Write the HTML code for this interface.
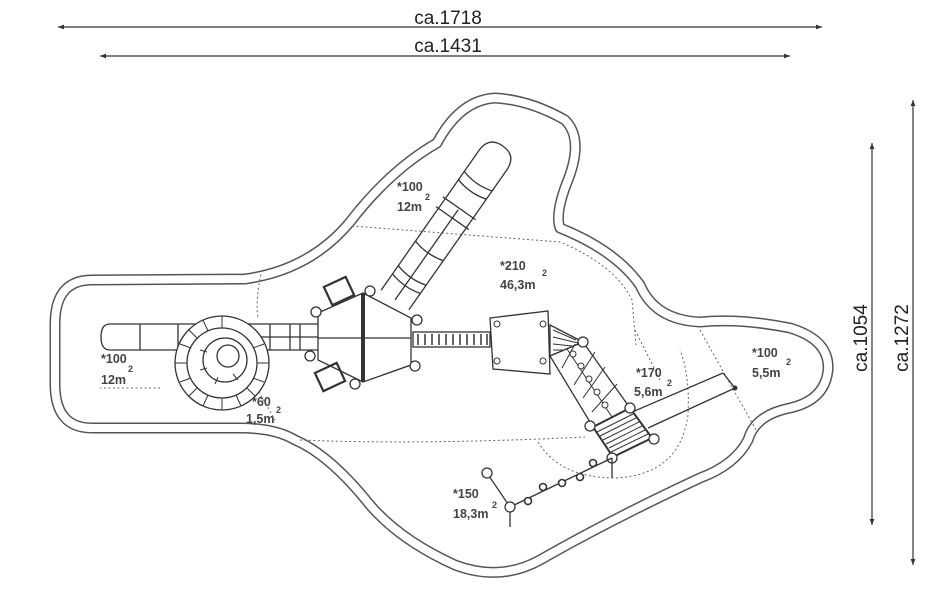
<!DOCTYPE html>
<html><head><meta charset="utf-8"><style>
html,body{margin:0;padding:0;background:#fff;}
svg{display:block;}
text{font-family:"Liberation Sans",sans-serif;fill:#333;}
.l{font-size:12.5px;font-weight:bold;fill:#444;}
.s{font-size:9px;font-weight:bold;fill:#444;}
.d{font-size:19px;fill:#222;}
</style></head><body>
<svg width="950" height="600" viewBox="0 0 950 600" xmlns="http://www.w3.org/2000/svg">
<defs>
<marker id="a" viewBox="0 0 10 10" refX="10" refY="5" markerWidth="7" markerHeight="5" orient="auto-start-reverse"><path d="M0,1 L10,5 L0,9 z" fill="#333"/></marker>
<path id="o" d="M92,280 L245,279 Q310,270 350,222 Q390,170 437,143 Q460,100 495,98 Q530,100 565,120 Q585,140 566,185 Q555,215 560,228 Q615,250 640,285 Q655,320 700,322 Q740,318 790,328 Q830,340 828,370 Q825,400 790,408 Q755,415 748,440 Q735,465 700,478 Q610,520 540,560 Q500,582 455,565 Q400,540 370,505 Q330,455 295,440 Q275,428 240,428 L92,428 Q55,428 55,384 L55,324 Q55,280 92,280 Z"/>
</defs>
<!-- dimension lines -->
<line x1="58" y1="27" x2="822" y2="27" stroke="#333" stroke-width="1.2" marker-start="url(#a)" marker-end="url(#a)"/>
<text class="d" x="448" y="24" text-anchor="middle">ca.1718</text>
<line x1="100" y1="56" x2="790" y2="56" stroke="#333" stroke-width="1.2" marker-start="url(#a)" marker-end="url(#a)"/>
<text class="d" x="448" y="52" text-anchor="middle">ca.1431</text>
<line x1="872" y1="143" x2="872" y2="525" stroke="#333" stroke-width="1.2" marker-start="url(#a)" marker-end="url(#a)"/>
<text class="d" transform="translate(867,338) rotate(-90)" text-anchor="middle">ca.1054</text>
<line x1="913" y1="100" x2="913" y2="565" stroke="#333" stroke-width="1.2" marker-start="url(#a)" marker-end="url(#a)"/>
<text class="d" transform="translate(908,338) rotate(-90)" text-anchor="middle">ca.1272</text>

<!-- outline double line -->
<g fill="none" stroke-linejoin="round">
<use href="#o" stroke="#555" stroke-width="11"/>
<use href="#o" stroke="#fff" stroke-width="8"/>
</g>

<!-- dotted zones -->
<g fill="none" stroke="#666" stroke-width="1" stroke-dasharray="2,2.5">
<path d="M352,226 L560,242 Q615,265 632,300 L636,345"/>
<path d="M262,270 Q255,300 258,318"/>
<path d="M160,388 L100,388"/>
<path d="M252,380 L275,420"/>
<path d="M300,440 Q420,445 585,437"/>
<path d="M538,442 Q560,478 615,478 Q680,475 688,415 Q690,375 680,350"/>
<path d="M635,330 L660,380"/>
<path d="M700,330 L756,430"/>
</g>

<g fill="none" stroke="#333" stroke-width="1.3">
<!-- left straight slide -->
<path d="M320,324 L110,324 Q101,324 101,337 Q101,350 110,350 L320,350"/>
<line x1="140" y1="324" x2="140" y2="350"/><line x1="178" y1="324" x2="178" y2="350"/>
<line x1="230" y1="324" x2="230" y2="350"/><line x1="250" y1="324" x2="250" y2="350"/>
<line x1="270" y1="324" x2="270" y2="350"/><line x1="290" y1="324" x2="290" y2="350"/>
<line x1="300" y1="324" x2="300" y2="350"/><line x1="220" y1="337" x2="320" y2="337"/>
<!-- spiral -->
<circle cx="222" cy="363" r="47" fill="#fff"/>
<circle cx="222" cy="363" r="35"/>
<circle cx="225" cy="360" r="22"/>
<circle cx="228" cy="356" r="11"/>
<g stroke-width="1">
<line x1="222" y1="316" x2="222" y2="328"/><line x1="175" y1="363" x2="187" y2="363"/>
<line x1="222" y1="410" x2="222" y2="398"/><line x1="269" y1="363" x2="257" y2="363"/>
<line x1="189" y1="330" x2="197" y2="338"/><line x1="189" y1="396" x2="197" y2="388"/>
<line x1="255" y1="396" x2="247" y2="388"/><line x1="203" y1="320" x2="208" y2="331"/>
<line x1="180" y1="344" x2="191" y2="348"/><line x1="180" y1="382" x2="191" y2="378"/>
<line x1="203" y1="406" x2="208" y2="395"/><line x1="241" y1="406" x2="236" y2="395"/>
<line x1="264" y1="382" x2="253" y2="378"/><line x1="264" y1="344" x2="253" y2="348"/>
<line x1="200" y1="350" x2="207" y2="352"/><line x1="200" y1="370" x2="207" y2="368"/>
<line x1="215" y1="384" x2="218" y2="377"/><line x1="238" y1="380" x2="233" y2="374"/>
</g>
<!-- tube slide up -->
<g transform="translate(395,300) rotate(-55)">
<path d="M0,-17 L170,-17 Q188,-17 188,0 Q188,17 170,17 L0,17"/>
<line x1="0" y1="0" x2="110" y2="0"/>
<path d="M20,-17 Q15,0 20,17 M30,-17 Q25,0 30,17 M60,-17 Q55,0 60,17"/>
<path d="M100,-20 L100,20 M112,-20 L112,20"/>
<path d="M135,-17 Q130,0 135,17 M145,-17 Q140,0 145,17"/>
</g>
<!-- hexagon tower -->
<polygon points="318,313 363,293 411,318 411,365 363,382 318,360" fill="#fff"/>
<line x1="363" y1="293" x2="363" y2="382" stroke-width="4"/>
<line x1="318" y1="338" x2="411" y2="338"/>
<rect x="327" y="281" width="24" height="20" transform="rotate(-25 339 291)" stroke-width="2.2"/>
<rect x="318" y="367" width="24" height="20" transform="rotate(-25 330 377)" stroke-width="2.2"/>
<g fill="#fff">
<circle cx="316" cy="312" r="5"/><circle cx="370" cy="291" r="5"/><circle cx="417" cy="320" r="5"/>
<circle cx="415" cy="366" r="5"/><circle cx="355" cy="384" r="5"/><circle cx="310" cy="356" r="5"/>
</g>
<!-- bridge -->
<rect x="413" y="332" width="77" height="15"/>
<g stroke-width="1.5">
<line x1="418" y1="334" x2="418" y2="345"/><line x1="425" y1="334" x2="425" y2="345"/>
<line x1="432" y1="334" x2="432" y2="345"/><line x1="439" y1="334" x2="439" y2="345"/>
<line x1="446" y1="334" x2="446" y2="345"/><line x1="453" y1="334" x2="453" y2="345"/>
<line x1="460" y1="334" x2="460" y2="345"/><line x1="467" y1="334" x2="467" y2="345"/>
<line x1="474" y1="334" x2="474" y2="345"/><line x1="481" y1="334" x2="481" y2="345"/>
<line x1="487" y1="334" x2="487" y2="345"/>
</g>
<!-- platform -->
<polygon points="490,318 548,311 550,374 493,369" fill="#fff"/>
<g stroke-width="1"><circle cx="497" cy="324" r="3"/><circle cx="497" cy="361" r="3"/><circle cx="543" cy="324" r="3"/><circle cx="543" cy="361" r="3"/></g>
<!-- small stairs -->
<polygon points="550,325 583,342 550,356"/>
<path d="M553,330 L576,340 M553,337 L578,343 M553,344 L572,346 M553,350 L565,350" stroke-width="1"/>
<!-- net -->
<polygon points="550,356 583,342 630,408 593,427" fill="#fff"/>
<path d="M567,349 L612,417 M562,368 L575,344 M574,385 L595,352 M583,398 L605,367 M592,412 L617,384" stroke-width="1"/>
<g fill="#fff" stroke-width="1"><circle cx="573" cy="354" r="3"/><circle cx="581" cy="366" r="3"/><circle cx="589" cy="379" r="3"/><circle cx="597" cy="392" r="3"/><circle cx="605" cy="405" r="3"/></g>
<!-- stairs -->
<polygon points="593,427 630,408 652,438 613,457" stroke-width="2"/>
<path d="M597,432 L633,414 M600,436 L636,418 M603,440 L639,422 M606,444 L642,426 M609,448 L645,430 M611,452 L648,434" stroke-width="1"/>
<!-- right slide -->
<path d="M630,413 L723,373 M648,428 L735,388 M723,373 L735,388"/>
<circle cx="735" cy="388" r="1.8" fill="#333"/>
<g fill="#fff">
<circle cx="583" cy="342" r="5"/><circle cx="630" cy="408" r="5"/><circle cx="590" cy="426" r="5"/>
<circle cx="654" cy="439" r="5"/><circle cx="612" cy="458" r="5"/>
</g>
<!-- stepping posts -->
<line x1="612" y1="458" x2="510" y2="507"/>
<line x1="612" y1="458" x2="612" y2="478"/>
<line x1="510" y1="507" x2="510" y2="527"/>
<line x1="510" y1="507" x2="487" y2="473"/>
<g fill="#fff"><circle cx="510" cy="507" r="5"/><circle cx="487" cy="473" r="5"/></g>
<g fill="#fff" stroke-width="1.6"><circle cx="593" cy="463" r="3.5"/><circle cx="580" cy="477" r="3.5"/><circle cx="562" cy="483" r="3.5"/><circle cx="543" cy="487" r="3.5"/><circle cx="528" cy="501" r="3.5"/></g>
</g>

<!-- labels -->
<text class="l" x="397" y="191">*100</text><text class="l" x="397" y="211">12m</text><text class="s" x="425" y="200">2</text>
<text class="l" x="500" y="270">*210</text><text class="l" x="500" y="289">46,3m</text><text class="s" x="542" y="276">2</text>
<text class="l" x="101" y="363">*100</text><text class="l" x="101" y="384">12m</text><text class="s" x="128" y="372">2</text>
<text class="l" x="252" y="406">*60</text><text class="l" x="246" y="423">1,5m</text><text class="s" x="276" y="413">2</text>
<text class="l" x="636" y="377">*170</text><text class="l" x="634" y="396">5,6m</text><text class="s" x="667" y="386">2</text>
<text class="l" x="752" y="357">*100</text><text class="l" x="752" y="377">5,5m</text><text class="s" x="786" y="365">2</text>
<text class="l" x="453" y="498">*150</text><text class="l" x="453" y="518">18,3m</text><text class="s" x="492" y="508">2</text>
</svg>
</body></html>
